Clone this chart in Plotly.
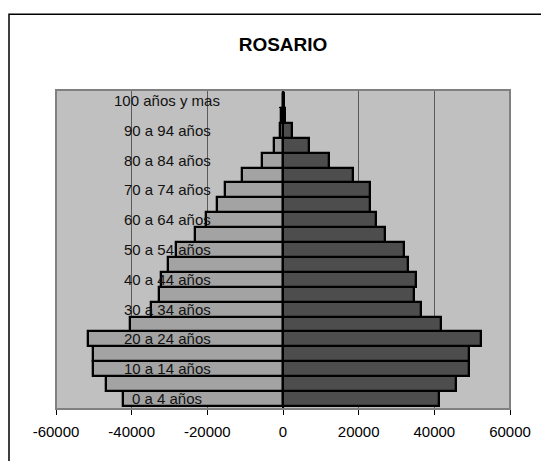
import plotly.graph_objects as go

categories = ["0 a 4 años", "5 a 9 años", "10 a 14 años", "15 a 19 años", "20 a 24 años",
              "25 a 29 años", "30 a 34 años", "35 a 39 años", "40 a 44 años", "45 a 49 años",
              "50 a 54 años", "55 a 59 años", "60 a 64 años", "65 a 69 años", "70 a 74 años",
              "75 a 79 años", "80 a 84 años", "85 a 89 años", "90 a 94 años", "95 a 99 años",
              "100 años y mas"]

left_values = [-42300, -46700, -50100, -50300, -51600, -40500, -34800, -32700, -32300, -30400,
               -28200, -23200, -20300, -17400, -15300, -10800, -5600, -2500, -900, -400, -100]

right_values = [41100, 45800, 49100, 49200, 52300, 41800, 36600, 34700, 35100, 33000,
                32000, 26900, 24500, 22900, 23100, 18400, 12200, 7000, 2500, 500, 200]

x_ticks = [-60000, -40000, -20000, 0, 20000, 40000, 60000]
shown_labels = categories[::2]

fig = go.Figure()
fig.add_trace(go.Bar(y=categories, x=left_values, orientation="h",
                     marker=dict(color="#A3A3A3", line=dict(color="black", width=2.3)),
                     showlegend=False, hoverinfo="x+y"))
fig.add_trace(go.Bar(y=categories, x=right_values, orientation="h",
                     marker=dict(color="#4D4D4D", line=dict(color="black", width=2.3)),
                     showlegend=False, hoverinfo="x+y"))

annotations = [dict(x=-30600, y=lab, xref="x", yref="y", text=lab, showarrow=False,
                    xanchor="center", yanchor="middle",
                    font=dict(family="Liberation Sans, Arial", size=15, color="#111111"))
               for lab in shown_labels]

L, T, PW, PH = 48, 82, 454, 319

fig.update_layout(
    width=549, height=461,
    margin=dict(l=L, r=549 - L - PW, t=T, b=461 - T - PH),
    paper_bgcolor="white",
    plot_bgcolor="#C0C0C0",
    barmode="overlay",
    bargap=0,
    title=dict(text="<b>ROSARIO</b>", x=(275 / 549), xanchor="center", y=1 - 36 / 461, yanchor="middle",
               font=dict(family="Liberation Sans, Arial", size=19, color="black")),
    xaxis=dict(range=[-60000, 60000], tickvals=x_ticks, ticktext=[str(v) for v in x_ticks],
               showgrid=True, gridcolor="#5a5a5a", gridwidth=1, zeroline=False,
               ticks="outside", ticklen=5, tickcolor="black", showline=False,
               ticklabelstandoff=4,
               tickfont=dict(family="Liberation Sans, Arial", size=15, color="black")),
    yaxis=dict(type="category", categoryorder="array", categoryarray=categories,
               showticklabels=False, showgrid=False, zeroline=False,
               anchor="free", position=0.5, showline=True, linecolor="black", linewidth=2,
               ticks="outside", ticklen=3, tickcolor="black", tickson="boundaries"),
    annotations=annotations,
    shapes=[
        dict(type="rect", xref="paper", yref="paper", x0=0, x1=1, y0=0, y1=1,
             line=dict(color="#808080", width=2), layer="above"),
        dict(type="rect", xref="paper", yref="paper",
             x0=(1.0 - L) / PW, x1=(580 - L) / PW,
             y0=(T + PH - 500) / PH, y1=(T + PH - 6.2) / PH,
             line=dict(color="black", width=1.5), layer="above"),
    ],
)

fig.write_html("out.html")
